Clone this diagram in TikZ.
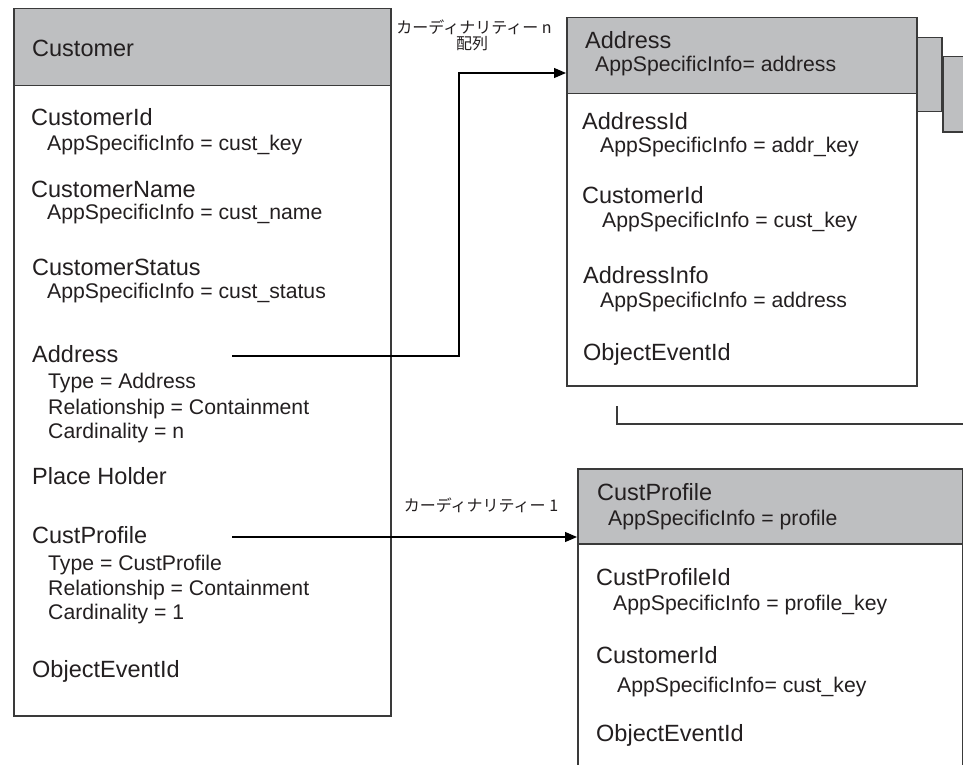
\documentclass[tikz,border=0pt]{standalone}
\usepackage{fontspec}
\setmainfont{Liberation Sans}
\newfontfamily\jp{Noto Sans CJK JP}
\usetikzlibrary{arrows.meta,calc}
\definecolor{hdrgray}{HTML}{BEBFC1}
\definecolor{edge}{HTML}{3A3A3A}
\definecolor{ink}{HTML}{231F20}
\tikzset{
  boxbody/.style={draw=edge, line width=1.5pt, fill=white, anchor=north west, inner sep=0pt, rectangle},
  boxhead/.style={draw=edge, line width=1.5pt, fill=hdrgray, anchor=north west, inner sep=0pt, rectangle},
  ttl/.style={anchor=base west, inner sep=0pt, text=ink, font=\fontsize{23.5}{28}\selectfont},
  sub/.style={anchor=base west, inner sep=0pt, text=ink, font=\fontsize{21.2}{25}\selectfont},
  jlab/.style={inner sep=0pt, text=ink, font=\jp\fontsize{16}{19}\selectfont},
  conn/.style={draw=black, line width=1.2pt},
  arr/.style={conn, -{Triangle[length=12pt,width=10pt]}}
}
\begin{document}
\begin{tikzpicture}[x=1pt,y=-1pt]
\useasboundingbox (0,0) rectangle (963,765);
\clip (0,0) rectangle (963,765);

% ---------------- Customer box ----------------
\node[boxbody, minimum width=377pt, minimum height=630pt] (custBody) at (13,85) {};
\node[boxhead, minimum width=377pt, minimum height=77pt] (custHead) at (13,8) {};
\node[ttl] (cH) at (32,57) {Customer};

\node[ttl] (c1) at (31,125) {CustomerId};
\node[sub] (c1s) at (47,150) {AppSpecificInfo = cust\_key};
\node[ttl] (c2) at (31,197) {CustomerName};
\node[sub] (c2s) at (47,219) {AppSpecificInfo = cust\_name};
\node[ttl] (c3) at (32,275) {CustomerStatus};
\node[sub] (c3s) at (47,298) {AppSpecificInfo = cust\_status};
\node[ttl] (c4) at (32,362) {Address};
\node[sub] (c4a) at (48,388) {Type = Address};
\node[sub] (c4b) at (48,414) {Relationship = Containment};
\node[sub] (c4c) at (48,438) {Cardinality = n};
\node[ttl] (c5) at (32,484) {Place Holder};
\node[ttl] (c6) at (32,543) {CustProfile};
\node[sub] (c6a) at (48,570) {Type = CustProfile};
\node[sub] (c6b) at (48,595) {Relationship = Containment};
\node[sub] (c6c) at (48,619) {Cardinality = 1};
\node[ttl] (c7) at (32,677) {ObjectEventId};

% ---------------- Address box (with stacked copies) ----------------
\node[boxhead, minimum width=40pt, minimum height=75pt] (addrShadowB) at (942,56) {};
\node[boxhead, minimum width=25pt, minimum height=74pt] (addrShadowA) at (916,37) {};
\node[boxbody, minimum width=350pt, minimum height=292pt] (addrBody) at (566,93) {};
\node[boxhead, minimum width=350pt, minimum height=76pt] (addrHead) at (566,17) {};
\node[ttl] (aH) at (585,49) {Address};
\node[sub] (aHs) at (595,72) {AppSpecificInfo= address};

\node[ttl] (a1) at (582,130) {AddressId};
\node[sub] (a1s) at (600,153) {AppSpecificInfo = addr\_key};
\node[ttl] (a2) at (582,203) {CustomerId};
\node[sub] (a2s) at (602,227) {AppSpecificInfo = cust\_key};
\node[ttl] (a3) at (583,283) {AddressInfo};
\node[sub] (a3s) at (600,307) {AppSpecificInfo = address};
\node[ttl] (a4) at (583,360) {ObjectEventId};

% bracket below Address box
\coordinate (brTop) at (617,406);
\coordinate (brEnd) at (970,424);
\draw[draw=edge, line width=1.3pt] (brTop) |- (brEnd);

% ---------------- CustProfile box ----------------
\node[boxbody, minimum width=385pt, minimum height=240pt] (profBody) at (577,543) {};
\node[boxhead, minimum width=385pt, minimum height=75pt] (profHead) at (577,468) {};
\node[ttl] (pH) at (597,500) {CustProfile};
\node[sub] (pHs) at (608,525) {AppSpecificInfo = profile};

\node[ttl] (p1) at (596,585) {CustProfileId};
\node[sub] (p1s) at (613,610) {AppSpecificInfo = profile\_key};
\node[ttl] (p2) at (596,663) {CustomerId};
\node[sub] (p2s) at (617,692) {AppSpecificInfo= cust\_key};
\node[ttl] (p3) at (596,741) {ObjectEventId};

% ---------------- connectors ----------------
\coordinate (fromAddr) at (232,356);
\coordinate (toAddr) at ($(addrHead.north west)+(0,56)$);
\draw[arr] (fromAddr) -- ++(227,0) |- (toAddr);

\coordinate (fromProf) at (232,537);
\draw[arr] (fromProf) -- (fromProf -| profHead.west);

% ---------------- labels ----------------
\node[jlab] (lblN) at (474,27) {カーディナリティー n};
\node[jlab] (lblArr) at (472,44) {配列};
\node[jlab] (lbl1) at (481,505) {カーディナリティー 1};
\end{tikzpicture}
\end{document}
